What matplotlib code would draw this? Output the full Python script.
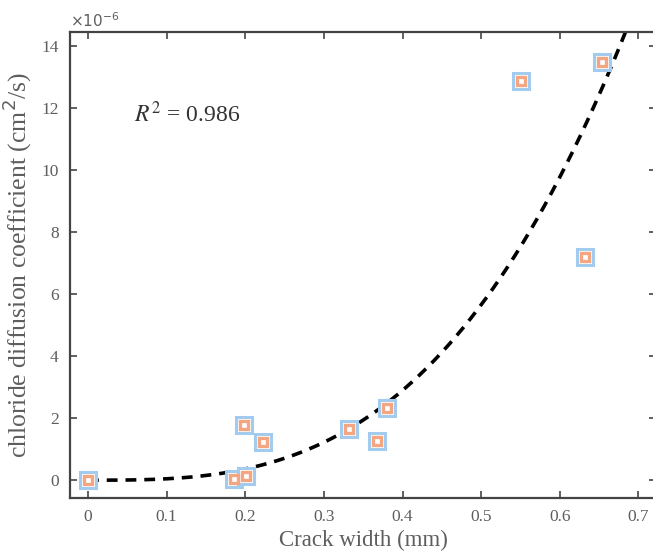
import matplotlib
matplotlib.use("Agg")
import matplotlib.pyplot as plt
import numpy as np

# crack width (mm) and chloride diffusion coefficient (x1e-6 cm^2/s)
crack_width = np.array([0.0, 0.186, 0.201, 0.199, 0.223, 0.332, 0.368, 0.380, 0.551, 0.632, 0.654])
diff_coef = np.array([0.0, 0.05, 0.15, 1.77, 1.23, 1.65, 1.26, 2.32, 12.87, 7.19, 13.48])
r2_text = "0.986"
x_ticks = [0, 0.1, 0.2, 0.3, 0.4, 0.5, 0.6, 0.7]
y_ticks = [0, 2, 4, 6, 8, 10, 12, 14]

# cubic fit through origin: D = a * w^3
a = np.sum(crack_width**3 * diff_coef) / np.sum(crack_width**6)
xf = np.linspace(0, 0.7, 300)
yf = a * xf**3

plt.rcParams['font.family'] = ['Liberation Serif', 'DejaVu Serif']
grey = '#5e5e5e'

fig = plt.figure(figsize=(6.53, 5.56), dpi=100)
ax = fig.add_axes([0.107, 0.104, 0.898, 0.838])

ax.plot(xf, yf, '--', color='black', lw=2.6, dashes=(3, 2.2), zorder=2)
ax.plot(crack_width, diff_coef, 's', ms=11, mfc='white', mec='#a3cbee', mew=2.2,
        ls='none', zorder=3)
ax.plot(crack_width, diff_coef, 's', ms=5.5, mfc='white', mec='#f4a582', mew=2.4,
        ls='none', zorder=4)

ax.set_xlim(-0.023, 0.7226)
ax.set_ylim(-0.58, 14.45)
ax.set_xticks(x_ticks)
ax.set_xticklabels([f"{t:g}" for t in x_ticks])
ax.set_yticks(y_ticks)
ax.tick_params(direction='in', top=True, right=True, length=5, width=1.2,
               colors='#444444', labelcolor=grey, labelsize=12.5, pad=8)
for s in ax.spines.values():
    s.set_color('#444444')
    s.set_linewidth(1.6)

ax.set_xlabel("Crack width (mm)", fontsize=16.5, color=grey, labelpad=3)
ax.set_ylabel("chloride diffusion coefficient (cm$^2$/s)", fontsize=18.5, color=grey,
              labelpad=5)
ax.text(0.0, 1.005, r"$\times 10^{-6}$", transform=ax.transAxes, fontsize=11,
        color=grey, va='bottom', ha='left')
ax.text(0.058, 11.8, r"$R^2$ = " + r2_text, fontsize=17, color='#333333',
        va='center', ha='left', math_fontfamily='stix')

fig.savefig("out.png", dpi=100)
